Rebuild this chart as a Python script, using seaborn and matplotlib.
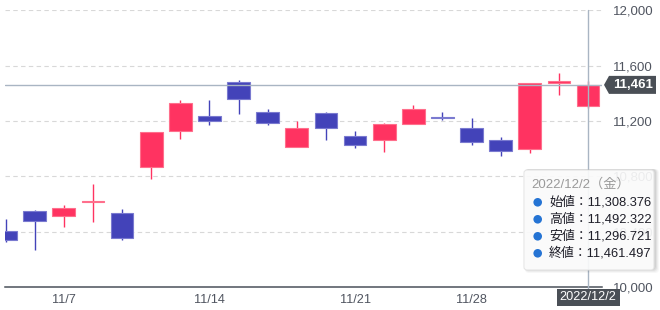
import matplotlib
matplotlib.use("Agg")
import matplotlib.pyplot as plt
import seaborn as sns
import numpy as np
import pandas as pd
from matplotlib.patches import FancyBboxPatch, Polygon, Rectangle, Circle

# ---- data ----
dates = ["11/2", "11/4", "11/7", "11/8", "11/9", "11/10", "11/11", "11/14", "11/15",
         "11/16", "11/17", "11/18", "11/21", "11/22", "11/24", "11/25", "11/28",
         "11/29", "11/30", "12/1", "12/2"]
opens = [10406, 10553, 10517, 10615, 10534, 10871, 11126, 11239, 11480, 11263, 11011,
         11261, 11095, 11061, 11177, 11232, 11152, 11063, 10996, 11474, 11308.376]
highs = [10491, 10555, 10594, 10748, 10567, 11120, 11354, 11352, 11494, 11287, 11203,
         11263, 11131, 11188, 11316, 11263, 11220, 11087, 11478, 11547, 11492.322]
lows = [10325, 10267, 10433, 10474, 10344, 10784, 11073, 11172, 11249, 11170, 11011,
        11064, 11004, 10979, 11177, 11208, 11025, 10950, 10972, 11386, 11296.721]
closes = [10344, 10476, 10570, 10622, 10354, 11119, 11328, 11199, 11360, 11186, 11150,
          11148, 11027, 11181, 11289, 11225, 11051, 10986, 11475, 11487, 11461.497]
xtick_dates = ["11/7", "11/14", "11/21", "11/28"]
yticks = [10000, 10400, 10800, 11200, 11600, 12000]
sel_label = "2022/12/2"
tooltip_title = "2022/12/2（金）"
tooltip_names = ["始値", "高値", "安値", "終値"]

df = pd.DataFrame({"date": dates, "open": opens, "high": highs, "low": lows, "close": closes})
df["x"] = np.arange(len(df))
df["up"] = df["close"] >= df["open"]

sns.set_theme(style="white")
plt.rcParams["font.family"] = ["Liberation Sans", "Noto Sans CJK JP", "DejaVu Sans"]

W, H = 660, 310
fig = plt.figure(figsize=(W / 100, H / 100), dpi=100)
fig.patch.set_facecolor("white")


def fx(x):
    return x / W


def fy(y):
    return 1 - y / H


ax = fig.add_axes([fx(5), fy(287.3), fx(602) - fx(5), fy(10.3) - fy(287.3)])
ax.set_facecolor("white")
ax.set_xlim(-0.02, 20.48)
ax.set_ylim(10000, 12000)

RED, RED_E = "#ff3361", "#ff6f8c"
BLUE, BLUE_E = "#4343b9", "#7a7ad0"

# grid
for v in yticks[1:]:
    ax.axhline(v, color="#d8d8d8", lw=0.8, ls=(0, (4, 3)), zorder=0)

# wicks
ax.vlines(df["x"], df["low"], df["high"],
          colors=[RED if u else BLUE for u in df["up"]], lw=1.0, zorder=2)
# bodies
bottoms = np.minimum(df["open"], df["close"])
heights = np.maximum(np.abs(df["close"] - df["open"]), 8)
ax.bar(df["x"], heights, bottom=bottoms, width=0.78,
       color=[RED if u else BLUE for u in df["up"]],
       edgecolor=[RED_E if u else BLUE_E for u in df["up"]], linewidth=0.8, zorder=3)

# axes styling
for s in ["top", "left", "right"]:
    ax.spines[s].set_visible(False)
ax.spines["bottom"].set_color("#4a515a")
ax.spines["bottom"].set_linewidth(1.1)
ax.yaxis.tick_right()
ax.set_yticks(yticks)
ax.set_yticklabels([f"{v:,}" for v in yticks])
ax.tick_params(axis="y", length=0, pad=8, labelsize=9.5, labelcolor="#505560")
xpos = [dates.index(d) for d in xtick_dates]
ax.set_xticks(xpos)
ax.set_xticklabels(xtick_dates)
ax.tick_params(axis="x", length=0, pad=5, labelsize=9.2, labelcolor="#505560")
ax.grid(False)

# crosshair
sel = len(df) - 1
last_close = df["close"].iloc[sel]
CH = "#a9b5c3"
ax.axhline(last_close, color=CH, lw=1.0, zorder=4)
ax.axvline(df["x"].iloc[sel], color=CH, lw=1.0, zorder=4, ymin=-0.01, clip_on=False)

fig.canvas.draw()
to_px = lambda xd, yd: ax.transData.transform((xd, yd))
_, ycl = to_px(0, last_close)
xr = ax.get_position().x1 * W
DARK = "#4a4f56"
# price label with left arrow
poly = Polygon([(xr + 2, ycl), (xr + 7, ycl + 9), (xr + 54, ycl + 9),
                (xr + 54, ycl - 9), (xr + 7, ycl - 9)],
               closed=True, transform=None, facecolor=DARK, edgecolor="none", zorder=10)
fig.patches.append(poly)
fig.text((xr + 31) / W, ycl / H, f"{round(last_close):,}", color="white", fontsize=9.5,
         fontweight="bold", ha="center", va="center", zorder=11)

# date label box
xs, _ = to_px(df["x"].iloc[sel], 0)
fig.patches.append(Rectangle((xs - 31.5, H - 306), 63, 17, transform=None,
                             facecolor=DARK, edgecolor="none", zorder=10))
fig.text(xs / W, fy(297.5), sel_label, color="white", fontsize=9.2,
         ha="center", va="center", zorder=11)

# tooltip
tx0, ty0, tx1, ty1 = 524, 170, 654, 270
for k, a in [(4, 0.03), (3, 0.04), (2, 0.05), (1, 0.06)]:
    fig.patches.append(FancyBboxPatch((tx0 + 1, H - ty1 - k + 1), tx1 - tx0 + k, ty1 - ty0 + k,
                                      boxstyle="round,pad=0,rounding_size=4", transform=None,
                                      facecolor="#000000", alpha=a, edgecolor="none", zorder=12))
fig.patches.append(FancyBboxPatch((tx0, H - ty1), tx1 - tx0, ty1 - ty0,
                                  boxstyle="round,pad=0,rounding_size=3", transform=None,
                                  facecolor="white", alpha=0.9, edgecolor="#e2e2e2",
                                  linewidth=0.8, zorder=13))
fig.text(fx(531), fy(184), tooltip_title, color="#9a9a9a", fontsize=9.5,
         ha="left", va="center", zorder=14)
tvals = [opens[sel], highs[sel], lows[sel], closes[sel]]
for i, (nm, v) in enumerate(zip(tooltip_names, tvals)):
    yy = 202.3 + 17 * i
    fig.patches.append(Circle((537.7, H - yy), 4.3, transform=None, facecolor="#2574d4",
                              edgecolor="none", zorder=14))
    fig.text(fx(549), fy(yy), f"{nm}：{v:,.3f}", color="#1e1e28", fontsize=9.3,
             ha="left", va="center", zorder=14)

fig.savefig("out.png", dpi=100, facecolor="white")
